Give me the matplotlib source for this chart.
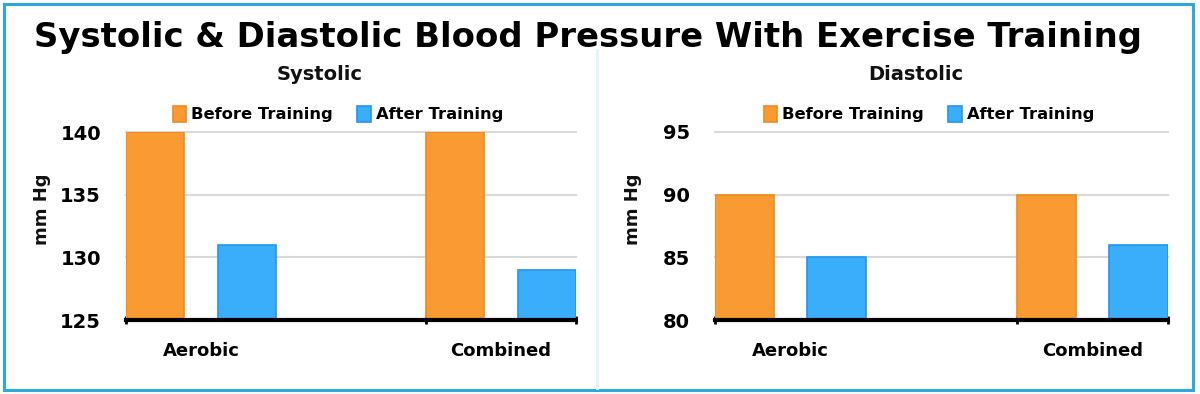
import matplotlib
matplotlib.use("Agg")
import matplotlib.pyplot as plt
from matplotlib.patches import Rectangle
from matplotlib.lines import Line2D
import numpy as np

# ---- data ----
categories = ["Aerobic", "Combined"]
series_names = ["Before Training", "After Training"]
systolic_before = [140, 140]
systolic_after = [131, 129]
diastolic_before = [90, 90]
diastolic_after = [85, 86]
systolic_ticks = [125, 130, 135, 140]
diastolic_ticks = [80, 85, 90, 95]
panel_titles = ["Systolic", "Diastolic"]
main_title = "Systolic & Diastolic Blood Pressure With Exercise Training"
y_label = "mm Hg"

ORANGE = "#F99A33"
ORANGE_EDGE = "#F08A1E"
BLUE = "#3AADFB"
BLUE_EDGE = "#2196EE"
FONT = "DejaVu Sans"

plt.rcParams['font.family'] = [FONT]

fig = plt.figure(figsize=(12, 3.94), dpi=100)
W, H = 1200, 394

def fx(px):
    return px / W

def fy(py):
    return 1 - py / H

panels = [
    dict(left=126, right=576, before=systolic_before, after=systolic_after,
         ticks=systolic_ticks, title=panel_titles[0], title_x=320,
         ylab_x=42, legend_x=338),
    dict(left=715, right=1168, before=diastolic_before, after=diastolic_after,
         ticks=diastolic_ticks, title=panel_titles[1], title_x=916,
         ylab_x=633, legend_x=929),
]

top_px, bot_px = 132, 320
x = np.arange(len(categories))
width = 0.195
off = 0.153

for p in panels:
    ax = fig.add_axes([fx(p['left']), fy(bot_px), fx(p['right'] - p['left']),
                       (bot_px - top_px) / H])
    ax.set_facecolor('none')
    b1 = ax.bar(x - off, p['before'], width, color=ORANGE, edgecolor=ORANGE_EDGE,
                linewidth=1.2, zorder=3, label=series_names[0])
    b2 = ax.bar(x + off, p['after'], width, color=BLUE, edgecolor=BLUE_EDGE,
                linewidth=1.2, zorder=3, label=series_names[1])
    ax.set_ylim(p['ticks'][0], p['ticks'][-1])
    ax.set_xlim(-0.25, 1.25)
    ax.set_yticks(p['ticks'])
    ax.set_yticklabels([str(t) for t in p['ticks']], fontsize=14, fontweight='bold')
    ax.set_xticks(x)
    ax.set_xticklabels(categories, fontsize=13, fontweight='bold')
    ax.set_xticks([-0.25, 0.75, 1.25], minor=True)
    ax.tick_params(axis='x', which='major', length=0, pad=16)
    ax.tick_params(axis='x', which='minor', length=6, width=2, direction='inout', color='black')
    ax.tick_params(axis='y', length=0, pad=18)
    for s in ['left', 'right', 'top']:
        ax.spines[s].set_visible(False)
    ax.spines['bottom'].set_linewidth(3)
    ax.spines['bottom'].set_color('black')
    ax.spines['bottom'].set_zorder(5)
    ax.yaxis.grid(True, color='#d9d9d9', linewidth=1.5, zorder=0)
    for gl in ax.get_ygridlines():
        gl.set_clip_on(False)
    ax.set_axisbelow(True)

    fig.text(fx(p['title_x']), fy(75), p['title'], ha='center', va='center',
             fontsize=14, fontweight='bold', color='#111111')
    fig.text(fx(p['ylab_x']), fy(209), y_label, ha='center', va='center',
             rotation=90, fontsize=13, fontweight='bold', color='#111111')
    fig.legend(handles=[b1, b2], loc='center',
               bbox_to_anchor=(fx(p['legend_x']), fy(114)), ncol=2,
               frameon=False, prop=dict(family=FONT, weight='bold', size=11.8),
               handlelength=0.8, handleheight=1.2, handletextpad=0.3,
               columnspacing=1.5, borderpad=0)

fig.text(0.49, fy(37), main_title, ha='center', va='center', fontsize=24.4,
         fontweight='bold', color='black')

# frame and divider
fig.add_artist(Rectangle((fx(4), fy(390)), fx(1189), 386 / H, fill=False,
                         edgecolor='#2AAAD8', linewidth=2.2, transform=fig.transFigure))
fig.add_artist(Line2D([fx(597), fx(597)], [fy(388), fy(50)], color='#E6F1F9',
                      linewidth=2, transform=fig.transFigure))

fig.savefig("out.png", dpi=100, facecolor='white')
